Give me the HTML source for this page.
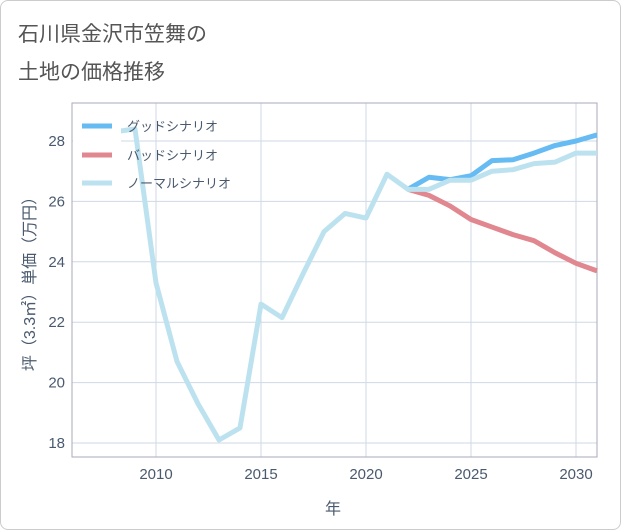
<!DOCTYPE html>
<html><head><meta charset="utf-8"><style>
body{margin:0;background:#fff;font-family:"Liberation Sans","Noto Sans CJK JP",sans-serif;}
#card{position:absolute;left:0;top:0;width:619px;height:528px;border:1px solid #ccc;border-radius:8px;background:#fff;}
#title{position:absolute;left:18px;top:16px;font-size:21px;line-height:38px;color:#555;}
</style></head><body>
<div id="card"></div>
<div id="title">石川県金沢市笠舞の<br>土地の価格推移</div>
<svg id="chart" width="621" height="530" style="position:absolute;left:0;top:0"></svg>
<script>
const years=[2008,2009,2010,2011,2012,2013,2014,2015,2016,2017,2018,2019,2020,2021,2022,2023,2024,2025,2026,2027,2028,2029,2030,2031];
const normal=[28.3,28.4,23.3,20.7,19.3,18.1,18.5,22.6,22.15,23.6,25.0,25.6,25.45,26.9,26.4,26.4,26.7,26.7,27.0,27.05,27.25,27.3,27.6,27.6];
const futYears=[2022,2023,2024,2025,2026,2027,2028,2029,2030,2031];
const good=[26.4,26.8,26.72,26.85,27.35,27.38,27.6,27.85,28.0,28.2];
const bad=[26.4,26.2,25.85,25.4,25.15,24.9,24.7,24.3,23.95,23.7];
const xTicks=[2010,2015,2020,2025,2030];
const yTicks=[18,20,22,24,26,28];
const L=72,R=597,T=103,B=457;
const x=v=>L+(v-2006)*21;
const y=v=>443-(v-18)*30.2;
const svg=document.getElementById('chart');
const NS='http://www.w3.org/2000/svg';
const TC='#4a5a6e';
function el(t,a){const e=document.createElementNS(NS,t);for(const k in a)e.setAttribute(k,a[k]);svg.appendChild(e);return e;}
xTicks.forEach(v=>{const l=el('line',{x1:x(v),x2:x(v),y1:T,y2:B,stroke:'#cfd9e5','stroke-width':1});

const t=el('text',{x:x(v),y:479,'text-anchor':'middle','font-size':15,fill:TC});t.textContent=v;
});
yTicks.forEach(v=>{const l=el('line',{x1:L,x2:R,y1:y(v),y2:y(v),stroke:'#cfd9e5','stroke-width':1});

const t=el('text',{x:65,y:y(v)+5,'text-anchor':'end','font-size':15,fill:TC});t.textContent=v;
});
const fr=el('rect',{x:L,y:T,width:R-L,height:B-T,fill:'none',stroke:'#aab','stroke-width':1});

function series(xs,ys,c,n){const p=el('polyline',{points:xs.map((v,i)=>x(v)+','+y(ys[i])).join(' '),fill:'none',stroke:c,'stroke-width':5,'stroke-linejoin':'round'});
}
series(futYears,good,'#66bbf3','good-scenario-line');
series(futYears,bad,'#e0878f','bad-scenario-line');
series(years,normal,'#bde2ef','normal-scenario-line');
const lb=el('rect',{x:73,y:110,width:48,height:90,fill:'#fff'});

[['グッドシナリオ','#66bbf3',126],['バッドシナリオ','#e0878f',155],['ノーマルシナリオ','#bde2ef',183]].forEach(d=>{
const l=el('line',{x1:82,x2:112,y1:d[2],y2:d[2],stroke:d[1],'stroke-width':5});

const t=el('text',{x:127,y:d[2]+5,'font-size':13,fill:TC});t.textContent=d[0];
});
const xt=el('text',{x:333,y:514,'text-anchor':'middle','font-size':16,fill:TC});xt.textContent='年';

const yt=el('text',{x:0,y:0,'text-anchor':'middle','font-size':16,fill:TC,transform:'translate(35,280) rotate(-90)'});yt.textContent='坪（3.3㎡）単価（万円）';

</script>
</body></html>
